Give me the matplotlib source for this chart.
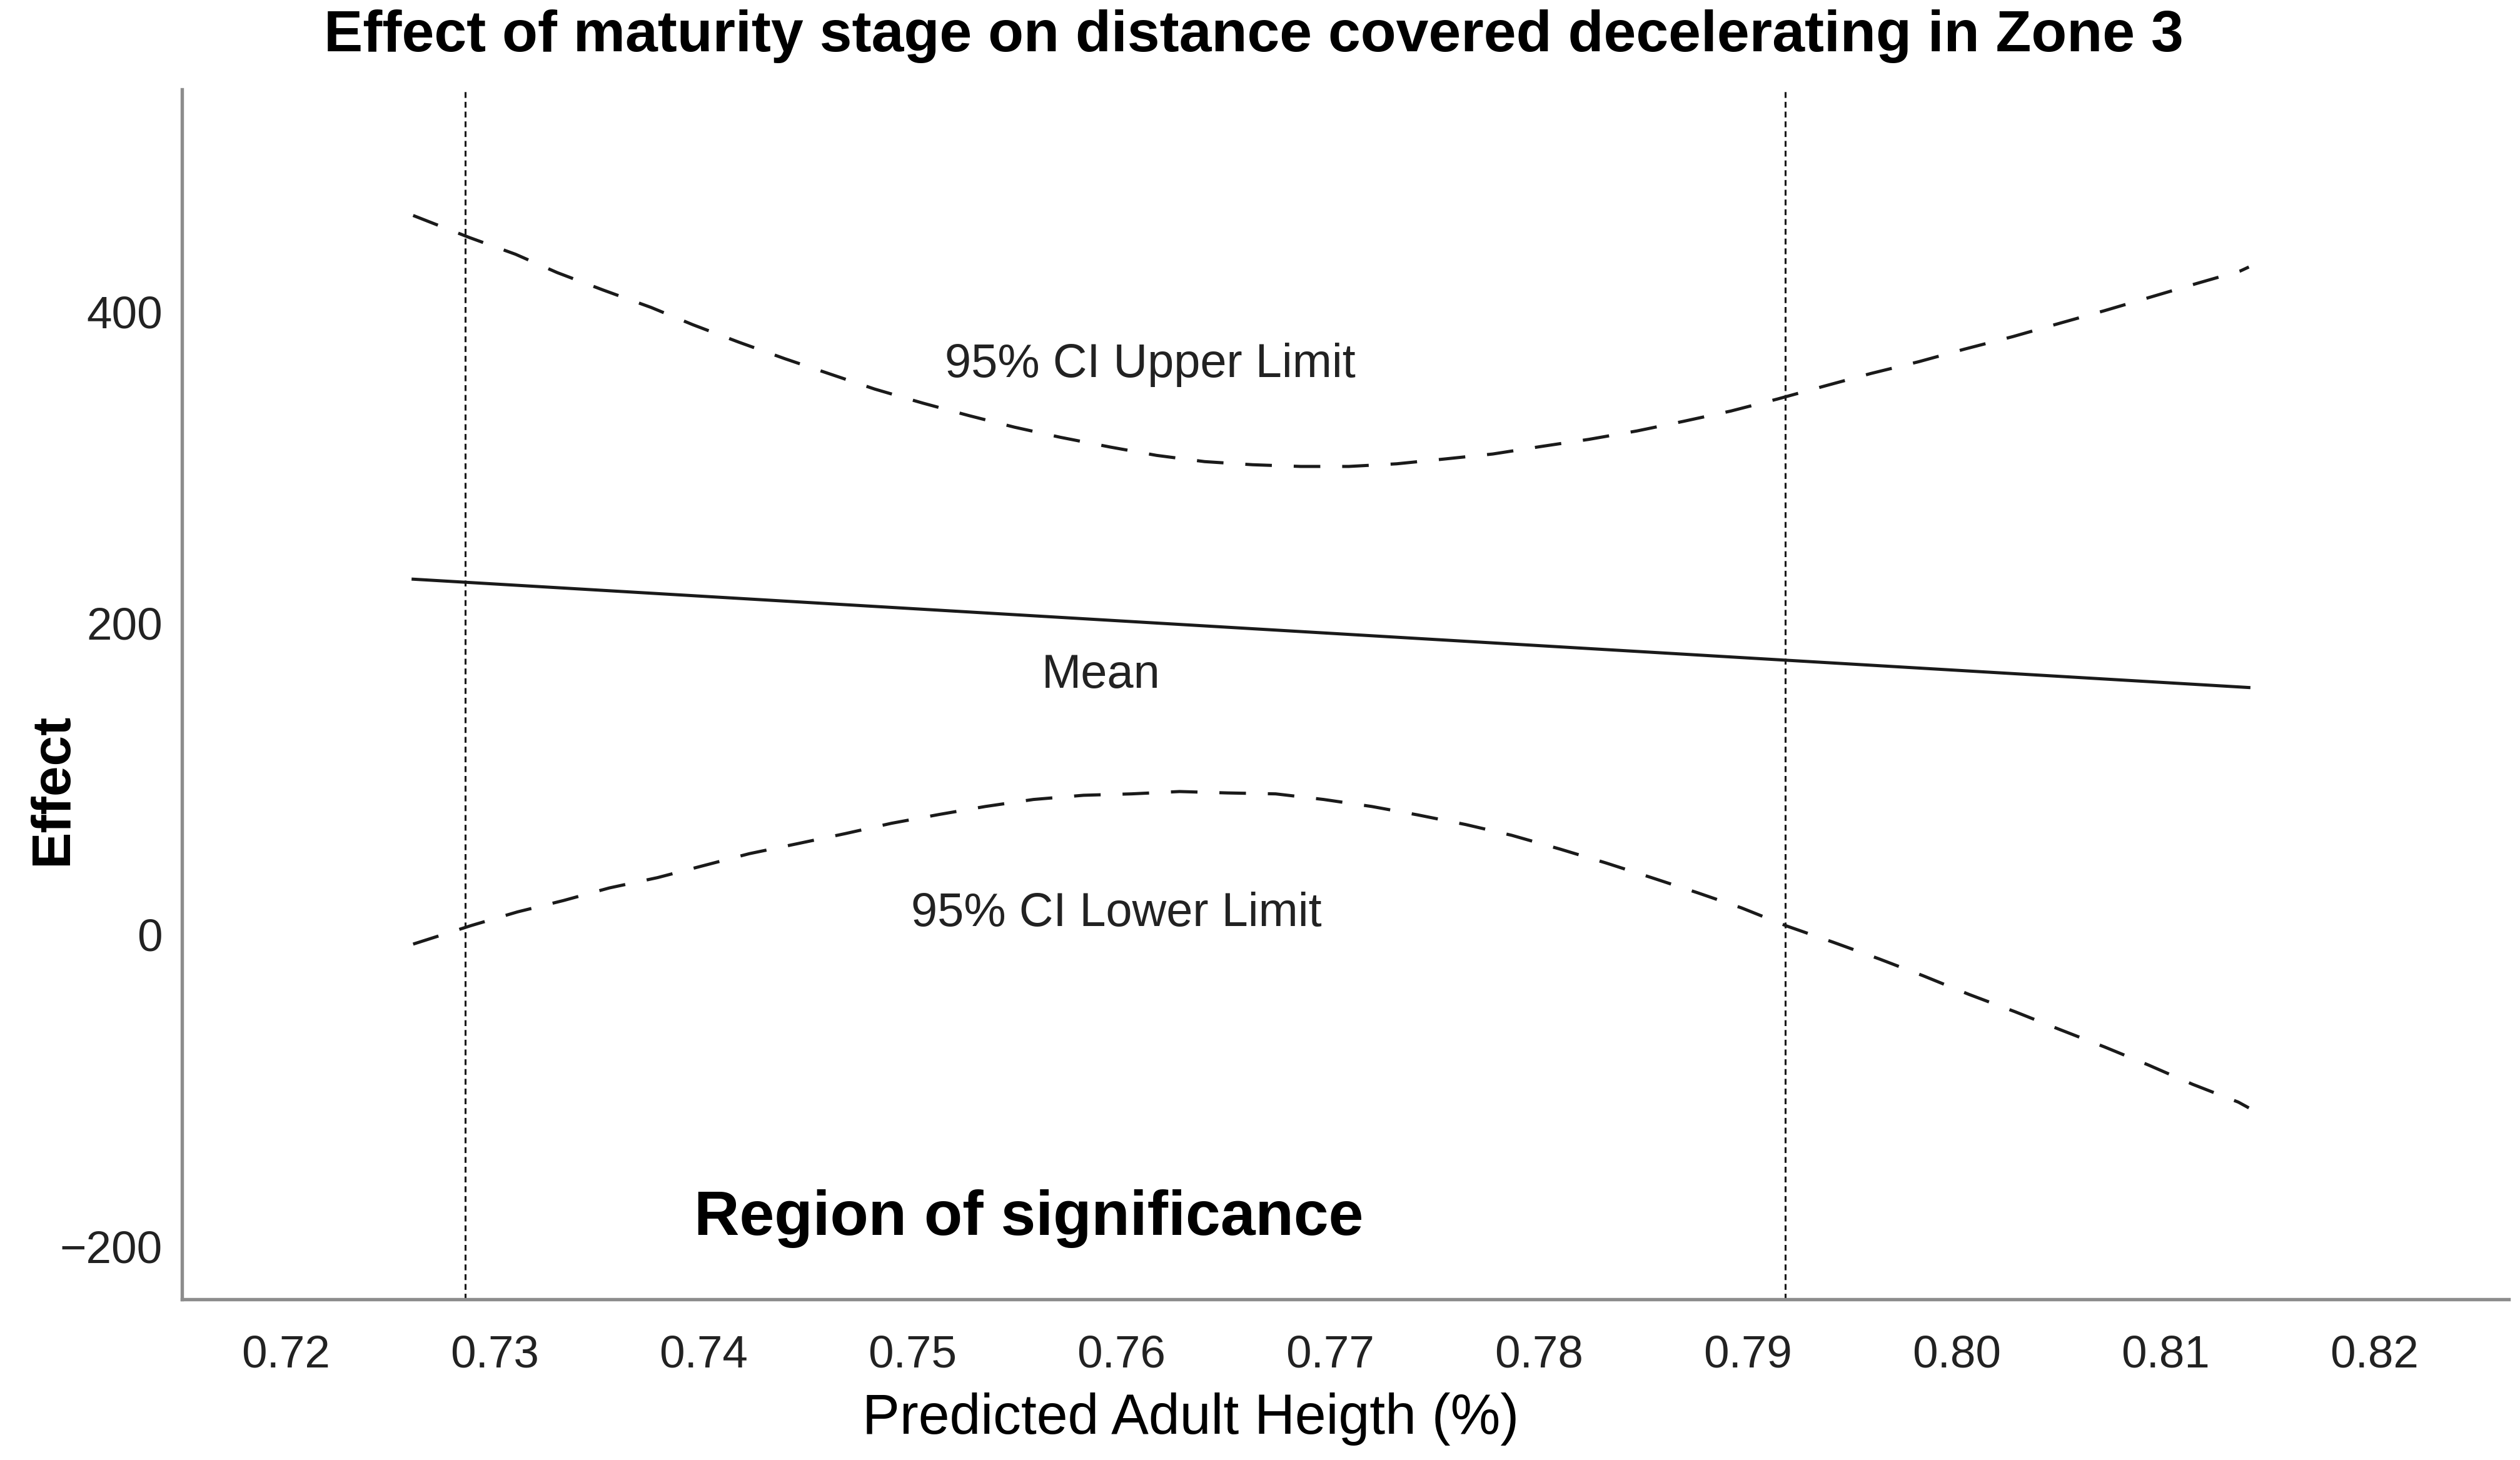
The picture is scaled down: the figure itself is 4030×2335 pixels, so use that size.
import matplotlib
matplotlib.use('Agg')
import matplotlib.pyplot as plt

plt.rcParams['font.family'] = ['Liberation Sans', 'DejaVu Sans']

# Valores (Johnson-Neyman)
x_media = [0.7261, 0.8140]
y_media = [228.4, 158.8]

x_superior = [0.7261, 0.7288, 0.7310, 0.7330, 0.7352, 0.7375, 0.7395, 0.7417,
              0.7439, 0.7461, 0.7482, 0.7505, 0.7527, 0.7549, 0.7571, 0.7595,
              0.7617, 0.7640, 0.7663, 0.7686, 0.7709, 0.7732, 0.7755, 0.7778,
              0.7801, 0.7824, 0.7847, 0.7869, 0.7892, 0.7914, 0.7937, 0.7959,
              0.7982, 0.8004, 0.8027, 0.8049, 0.8071, 0.8093, 0.8115, 0.8136,
              0.8140]
y_superior = [462.0, 447.8, 437.1, 425.3, 414.1, 402.9, 391.8, 380.6,
              370.0, 360.0, 350.5, 341.5, 333.5, 326.0, 319.5, 313.2,
              307.9, 303.9, 301.9, 300.8, 300.8, 302.5, 305.6, 308.8,
              313.6, 318.2, 323.6, 329.7, 336.4, 344.0, 352.5, 360.5,
              368.1, 376.2, 384.2, 392.6, 400.9, 409.6, 418.3, 426.4,
              428.9]

x_inferior = [0.7261, 0.7289, 0.7311, 0.7333, 0.7355, 0.7378, 0.7400, 0.7422,
              0.7445, 0.7468, 0.7490, 0.7513, 0.7535, 0.7558, 0.7582, 0.7605,
              0.7628, 0.7651, 0.7674, 0.7697, 0.7720, 0.7742, 0.7765, 0.7787,
              0.7810, 0.7832, 0.7854, 0.7876, 0.7897, 0.7919, 0.7941, 0.7963,
              0.7984, 0.8006, 0.8028, 0.8049, 0.8071, 0.8092, 0.8113, 0.8135,
              0.8140]
y_inferior = [-6.0, 6.0, 14.7, 22.0, 30.1, 36.7, 44.4, 52.1,
              58.5, 65.0, 71.6, 77.3, 82.4, 86.9, 89.6, 90.5,
              92.0, 91.1, 90.5, 86.9, 82.4, 77.0, 70.8, 63.9,
              55.1, 46.2, 36.7, 27.0, 17.3, 5.5, -4.8, -15.5,
              -26.3, -38.3, -49.4, -60.6, -72.1, -83.7, -96.0, -107.5,
              -111.2]

limites_regiao = [0.7286, 0.7918]

ticks_x = [0.72, 0.73, 0.74, 0.75, 0.76, 0.77, 0.78, 0.79, 0.80, 0.81, 0.82]
rotulos_x = ['0.72', '0.73', '0.74', '0.75', '0.76', '0.77', '0.78', '0.79',
             '0.80', '0.81', '0.82']
ticks_y = [-200, 0, 200, 400]
rotulos_y = ['\u2212200', '0', '200', '400']

cor_linha = '#1a1a1a'
cor_eixo = '#8c8c8c'

fig = plt.figure(figsize=(4030 / 300, 2335 / 300), dpi=300)
ax = fig.add_axes([0.0722, 0.1101, 0.9233, 0.8287])

ax.plot(x_media, y_media, color=cor_linha, lw=1.2)
ax.plot(x_superior, y_superior, color=cor_linha, lw=1.2, linestyle=(0, (8.5, 7)))
ax.plot(x_inferior, y_inferior, color=cor_linha, lw=1.2, linestyle=(0, (8.5, 7)))
for limite in limites_regiao:
    ax.axvline(limite, color=cor_linha, lw=0.75, linestyle=(0, (3, 2)))

ax.set_xlim(0.71503, 0.82644)
ax.set_ylim(-234.1, 543.0)
ax.set_xticks(ticks_x)
ax.set_xticklabels(rotulos_x)
ax.set_yticks(ticks_y)
ax.set_yticklabels(rotulos_y)
ax.tick_params(axis='both', length=0, labelsize=17.5, colors='#222222')
ax.tick_params(axis='x', pad=13.5)
ax.tick_params(axis='y', pad=7.4)

for lado in ['top', 'right']:
    ax.spines[lado].set_visible(False)
for lado in ['left', 'bottom']:
    ax.spines[lado].set_color(cor_eixo)
    ax.spines[lado].set_linewidth(1.3)

ax.text(0.76138, 358.2, '95% CI Upper Limit', ha='center', va='baseline',
        fontsize=18.2, color='#222222')
ax.text(0.75904, 158.6, 'Mean', ha='center', va='baseline',
        fontsize=18.2, color='#222222')
ax.text(0.75976, 5.6, '95% CI Lower Limit', ha='center', va='baseline',
        fontsize=18.2, color='#222222')
ax.text(0.75557, -192.8, 'Region of significance', ha='center', va='baseline',
        fontsize=24.1, fontweight='bold', color='black')

fig.text(0.4975, 1 - 82 / 2335,
         'Effect of maturity stage on distance covered decelerating in Zone 3',
         ha='center', va='baseline', fontsize=22.4, fontweight='bold')
fig.text(107 / 4030, 0.4595, 'Effect', rotation=90, rotation_mode='anchor',
         ha='center', va='baseline', fontsize=21, fontweight='bold')
fig.text(0.4725, 1 - 2293 / 2335, 'Predicted Adult Heigth (%)',
         ha='center', va='baseline', fontsize=21.5)

fig.savefig('out.png', dpi=300)
